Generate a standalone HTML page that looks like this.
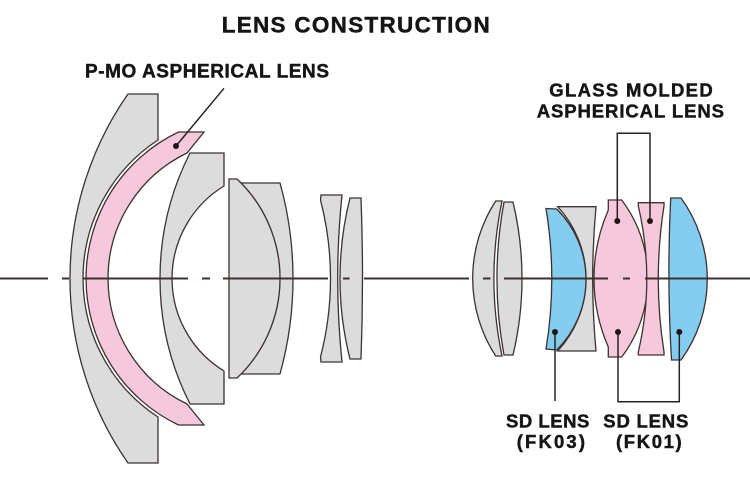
<!DOCTYPE html>
<html>
<head>
<meta charset="utf-8">
<style>
  html, body { margin: 0; padding: 0; background: #ffffff; }
  body { width: 750px; height: 498px; overflow: hidden; }
  svg { display: block; }
  text { font-family: "Liberation Sans", Arial, sans-serif; font-weight: bold; fill: #151515; stroke: #151515; stroke-width: 0.45; }
</style>
</head>
<body>
<svg width="750" height="498" viewBox="0 0 750 498" xmlns="http://www.w3.org/2000/svg">
  <rect x="0" y="0" width="750" height="498" fill="#ffffff"/>

  <!-- Title and labels -->
  <text x="221.7" y="32.3" font-size="22.5" textLength="268" lengthAdjust="spacing">LENS CONSTRUCTION</text>
  <text x="85" y="77.3" font-size="19" textLength="244" lengthAdjust="spacing">P-MO ASPHERICAL LENS</text>
  <text x="549.3" y="96.7" font-size="18.5" textLength="163.4" lengthAdjust="spacing">GLASS MOLDED</text>
  <text x="536.7" y="117.5" font-size="18.5" textLength="187.3" lengthAdjust="spacing">ASPHERICAL LENS</text>
  <text x="506" y="427.3" font-size="18.5" textLength="83.3" lengthAdjust="spacing">SD LENS</text>
  <text x="516.7" y="448" font-size="18.5" textLength="68.3" lengthAdjust="spacing">(FK03)</text>
  <text x="603.3" y="427.3" font-size="18.5" textLength="85" lengthAdjust="spacing">SD LENS</text>
  <text x="616" y="448" font-size="18.5" textLength="65.7" lengthAdjust="spacing">(FK01)</text>

  <g stroke="#3c3230" stroke-width="1.3" stroke-linejoin="miter">
    <!-- Lens 1: big gray meniscus -->
    <path fill="#dcdcdc" d="M128,94 L158,94 L158,140 A165.4,165.4 0 0 0 158,417 L158,463 L128,463 A322.4,322.4 0 0 1 128,94 Z"/>
    <!-- Pink P-MO aspherical -->
    <path fill="#f5c8dc" d="M178.5,132 L204,132 L187,153 A139.2,139.2 0 0 0 187,404 L204,425 L178.5,425 A162.3,162.3 0 0 1 178.5,132 Z"/>
    <!-- Lens 2 -->
    <path fill="#dcdcdc" d="M190,153 L224,153 L224,186 A108.3,108.3 0 0 0 224,371 L224,404 L190,404 A277.5,277.5 0 0 1 190,153 Z"/>
    <!-- Lens 3 cemented doublet -->
    <path fill="#dcdcdc" d="M241,183 L280,183 A357.3,357.3 0 0 1 280,374 L241,374 A136.6,136.6 0 0 0 241,183 Z"/>
    <path fill="#dcdcdc" d="M229,179 L237,179 A136.6,136.6 0 0 1 237,378 L229,378 Z"/>
    <!-- Lens 4 -->
    <path fill="#dcdcdc" d="M321,195 L342,195 A813,813 0 0 0 342,362 L321,362 L320.5,357 A313,313 0 0 0 320.5,200 Z"/>
    <!-- Lens 5 -->
    <path fill="#dcdcdc" d="M350,198 L361,198 A2160,2160 0 0 1 361,359 L350,359 A329,329 0 0 1 350,198 Z"/>
    <!-- Lens 6 -->
    <path fill="#dcdcdc" d="M495.7,201 L502,201 A379,379 0 0 0 502,356 L495.7,356 A142,142 0 0 1 495.7,201 Z"/>
    <!-- Lens 7 -->
    <path fill="#dcdcdc" d="M504,202 L513,202 A329.6,329.6 0 0 1 513,355 L504,355 A421.5,421.5 0 0 1 504,202 Z"/>
    <!-- Gray next to blue FK03 -->
    <path fill="#dcdcdc" d="M557.7,206.7 L596,206.7 A787,787 0 0 0 596,351 L557.7,351 A106.1,106.1 0 0 0 557.7,206.7 Z"/>
    <!-- Blue FK03 -->
    <path fill="#84cdf0" d="M546,208.5 L556.7,209 A99.5,99.5 0 0 1 556.7,350 L546,349 A432.7,432.7 0 0 0 546,208.5 Z"/>
    <!-- Pink big glass molded -->
    <path fill="#f5c8dc" d="M608.3,200 L621.7,200 A130.3,130.3 0 0 1 621.7,357 L608.3,357 L608.3,347 A171.2,171.2 0 0 1 608.3,210 Z"/>
    <!-- Pink small glass molded -->
    <path fill="#f5c8dc" d="M638.3,202.7 L664,202.7 L664,206 A470.3,470.3 0 0 0 664,352 L664,355 L638.3,355 L638.3,352 A321.4,321.4 0 0 0 638.3,206 Z"/>
    <!-- Blue FK01 -->
    <path fill="#84cdf0" d="M670.7,198 L681,198 A137.9,137.9 0 0 1 681,360 L671.5,360 A1492,1492 0 0 1 670.7,198 Z"/>
  </g>

  <!-- Optical axis -->
  <g stroke="#3c3230" stroke-width="2" fill="none">
    <line x1="0" y1="278.5" x2="48" y2="278.5"/>
    <line x1="62" y1="278.5" x2="69" y2="278.5"/>
    <line x1="83" y1="278.5" x2="188" y2="278.5"/>
    <line x1="202" y1="278.5" x2="210" y2="278.5"/>
    <line x1="223" y1="278.5" x2="328" y2="278.5"/>
    <line x1="343" y1="278.5" x2="349.5" y2="278.5"/>
    <line x1="364" y1="278.5" x2="469" y2="278.5"/>
    <line x1="483" y1="278.5" x2="490.5" y2="278.5"/>
    <line x1="504" y1="278.5" x2="608" y2="278.5"/>
    <line x1="623" y1="278.5" x2="630" y2="278.5"/>
    <line x1="645" y1="278.5" x2="750" y2="278.5"/>
  </g>

  <!-- Leader lines -->
  <g stroke="#2a2222" stroke-width="1.5" fill="none">
    <line x1="176" y1="146" x2="224" y2="88.3"/>
    <polyline points="617.3,221 617.3,133.3 650,133.3 650,221"/>
    <line x1="555" y1="332" x2="555" y2="401"/>
    <polyline points="618,332 618,401.7 679.3,401.7 679.3,332"/>
  </g>
  <g fill="#1e1616">
    <circle cx="176" cy="146" r="3"/>
    <circle cx="617.3" cy="221" r="3"/>
    <circle cx="650" cy="221" r="3"/>
    <circle cx="555" cy="332" r="3"/>
    <circle cx="618" cy="332" r="3"/>
    <circle cx="679.3" cy="332" r="3"/>
  </g>
</svg>
</body>
</html>
